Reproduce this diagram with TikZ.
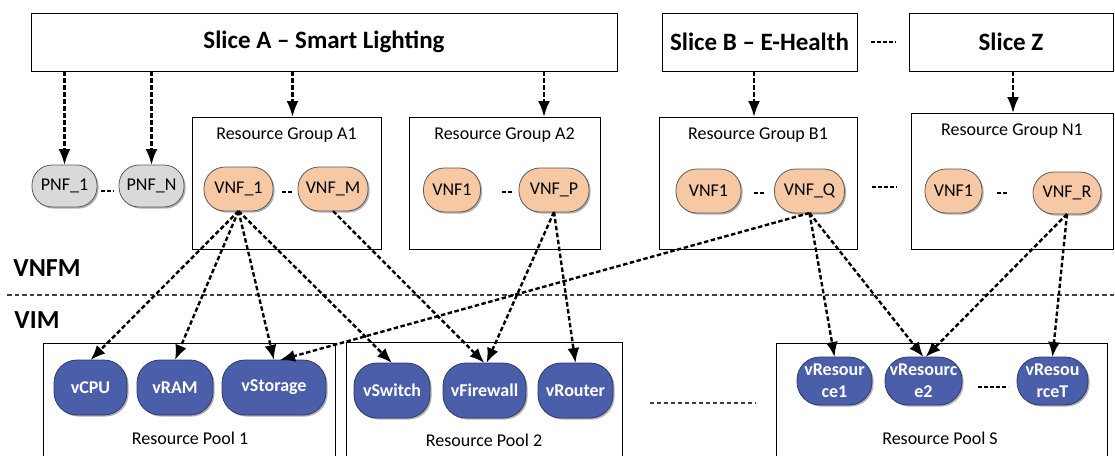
\documentclass[tikz,border=0pt]{standalone}
\usepackage{fontspec}
\setmainfont{Carlito}
\usetikzlibrary{arrows.meta,shadows}

\definecolor{pnfgray}{HTML}{D9D9D9}
\definecolor{vnfpeach}{HTML}{F6C8A4}
\definecolor{resblue}{HTML}{4A5EA9}
\definecolor{resedge}{HTML}{2E3A6A}
\definecolor{nodeedge}{HTML}{5A5A5A}
\definecolor{sepgray}{HTML}{404040}

\tikzset{
  slicebox/.style={draw, line width=1pt, outer sep=0pt, inner sep=0pt,
    font=\bfseries\fontsize{25}{30}\selectfont},
  groupbox/.style={draw, line width=0.9pt, outer sep=0pt, inner sep=0pt},
  grouplabel/.style={font=\fontsize{18}{22}\selectfont, inner sep=0pt},
  softshadow/.style={drop shadow={shadow xshift=1.6pt, shadow yshift=-1.6pt,
    opacity=0.3, fill=black}},
  pnfnode/.style={draw=nodeedge, fill=pnfgray, line width=0.8pt,
    rounded corners=20pt, outer sep=0pt, inner sep=0pt, minimum height=42,
    font=\fontsize{18}{21}\selectfont, softshadow},
  vnfnode/.style={draw=nodeedge, fill=vnfpeach, line width=0.8pt,
    rounded corners=21pt, outer sep=0pt, inner sep=0pt, minimum height=44,
    font=\fontsize{18}{21}\selectfont, softshadow},
  resnode/.style={draw=resedge, fill=resblue, line width=0.8pt, text=white,
    rounded corners=23pt, outer sep=0pt, inner sep=0pt, minimum height=55,
    align=center, font=\bfseries\fontsize{18}{22}\selectfont, softshadow},
  poolbox/.style={draw, line width=0.9pt, outer sep=0pt, inner sep=0pt},
  pooltext/.style={font=\fontsize{18}{22}\selectfont, inner sep=0pt},
  layerlabel/.style={font=\bfseries\fontsize{26}{30}\selectfont, inner sep=0pt},
  link/.style={line width=2.4pt, dash pattern=on 4.5pt off 2.5pt,
    -{Latex[length=16pt,width=12pt]}},
  flow/.style={line width=2.4pt, dash pattern=on 4.5pt off 2.5pt,
    -{Latex[length=15pt,width=12pt]}},
  gap/.style={line width=1.6pt, dash pattern=on 3.5pt off 2.5pt},
  trail/.style={line width=1.6pt, dash pattern=on 4pt off 3pt, draw=sepgray},
  separator/.style={line width=1.6pt, dash pattern=on 4.5pt off 3pt, draw=sepgray},
}

\begin{document}
\begin{tikzpicture}[x=1pt, y=-1pt]
\useasboundingbox (0,0) rectangle (1115,455);

% ---------- slices ----------
\node[slicebox, minimum width=586, minimum height=58] (sliceA) at (324,42) {Slice A -- Smart Lighting};
\node[slicebox, minimum width=195, minimum height=58] (sliceB) at (759.5,42) {Slice B -- E-Health};
\node[slicebox, minimum width=204, minimum height=58] (sliceZ) at (1011,42) {Slice Z};
\draw[gap] (871,42) coordinate (sbz1) -- (896,42) coordinate (sbz2);

% ---------- physical network functions ----------
\node[pnfnode, minimum width=65] (pnf1) at (64.5,186) {PNF\_1};
\node[pnfnode, minimum width=65] (pnfN) at (151.5,186) {PNF\_N};
\draw[gap] (101,191) coordinate (p1) -- (114,191) coordinate (p2);

% ---------- resource groups ----------
\node[groupbox, minimum width=189, minimum height=132] (rgA1) at (286.5,183) {};
\node[grouplabel] (rgA1l) at (286.5,135) {Resource Group A1};
\node[groupbox, minimum width=191, minimum height=132] (rgA2) at (504.5,183) {};
\node[grouplabel] (rgA2l) at (504.5,135) {Resource Group A2};
\node[groupbox, minimum width=198, minimum height=132] (rgB1) at (758,183) {};
\node[grouplabel] (rgB1l) at (758,135) {Resource Group B1};
\node[groupbox, minimum width=202, minimum height=136] (rgN1) at (1012,181) {};
\node[grouplabel] (rgN1l) at (1012,131) {Resource Group N1};

% ---------- virtual network functions ----------
\node[vnfnode, minimum width=69] (vnfA1) at (238.5,189) {VNF\_1};
\node[vnfnode, minimum width=70] (vnfAM) at (333,189) {VNF\_M};
\node[vnfnode, minimum width=57] (vnfB1) at (452,190) {VNF1};
\node[vnfnode, minimum width=70] (vnfBP) at (554,190) {VNF\_P};
\node[vnfnode, minimum width=65] (vnfC1) at (708.5,191) {VNF1};
\node[vnfnode, minimum width=70] (vnfCQ) at (809.5,191) {VNF\_Q};
\node[vnfnode, minimum width=57] (vnfD1) at (953.5,191) {VNF1};
\node[vnfnode, minimum width=68, minimum height=42] (vnfDR) at (1067,193) {VNF\_R};

\draw[gap] (282,192) coordinate (d1) -- (292,192) coordinate (d2);
\draw[gap] (502,192) coordinate (d3) -- (512,192) coordinate (d4);
\draw[gap] (754,193) coordinate (d5) -- (765,193) coordinate (d6);
\draw[gap] (872,187) coordinate (d7) -- (897,187) coordinate (d8);
\draw[gap] (997,193) coordinate (d9) -- (1007,193) coordinate (d10);

% ---------- slice to function arrows ----------
\draw[link] (pnf1.north |- sliceA.south) -- (pnf1.north);
\draw[link] (pnfN.north |- sliceA.south) -- (pnfN.north);
\draw[link] ([xshift=6pt]rgA1.north |- sliceA.south) -- ([xshift=6pt]rgA1.north);
\draw[link] ([xshift=39.5pt]rgA2.north |- sliceA.south) -- ([xshift=39.5pt]rgA2.north);
\draw[link] ([xshift=-4pt]rgB1.north |- sliceB.south) -- ([xshift=-4pt]rgB1.north);
\draw[link] ([xshift=1pt]rgN1.north |- sliceZ.south) -- ([xshift=1pt]rgN1.north);

% ---------- management layers ----------
\node[layerlabel] (vnfm) at (47,268) {VNFM};
\node[layerlabel] (vim) at (37,320) {VIM};
\draw[separator] (7,295) coordinate (s1) -- (1115,295) coordinate (s2);

% ---------- resource pools ----------
\node[poolbox, minimum width=292, minimum height=130] (pool1) at (189,408) {};
\node[pooltext] (pool1l) at (190,438) {Resource Pool 1};
\node[poolbox, minimum width=276, minimum height=130] (pool2) at (484,407) {};
\node[pooltext] (pool2l) at (484,440) {Resource Pool 2};
\node[poolbox, minimum width=331, minimum height=130] (poolS) at (941.5,408) {};
\node[pooltext] (poolSl) at (940,438) {Resource Pool S};
\draw[trail] (650,403) coordinate (e1) -- (756,403) coordinate (e2);

% ---------- virtual resources ----------
\node[resnode, minimum width=73] (vcpu) at (90.5,387.5) {vCPU};
\node[resnode, minimum width=76] (vram) at (175,387.5) {vRAM};
\node[resnode, minimum width=104] (vsto) at (274,387.5) {vStorage};
\node[resnode, minimum width=76] (vswi) at (392,390.5) {vSwitch};
\node[resnode, minimum width=83] (vfir) at (484.5,390.5) {vFirewall};
\node[resnode, minimum width=75] (vrou) at (575.5,390.5) {vRouter};
\node[resnode, minimum width=75, minimum height=48] (vres1) at (834.5,381) {vResour\\ce1};
\node[resnode, minimum width=77, minimum height=48] (vres2) at (923.5,381) {vResourc\\e2};
\node[resnode, minimum width=71, minimum height=48] (vresT) at (1052.5,381) {vResou\\rceT};
\draw[gap] (978,387) coordinate (r1) -- (1008,387) coordinate (r2);

% ---------- function to resource mappings ----------
\draw[flow] (vnfA1.south) -- (vcpu.north);
\draw[flow] (vnfA1.south) -- (vram.north);
\draw[flow] (vnfA1.south) -- (vsto.north);
\draw[flow] (vnfA1.south) -- (vswi.north);
\draw[flow] (vnfAM.south) -- (vfir.north);
\draw[flow] (vnfBP.south) -- ([xshift=2pt]vfir.north);
\draw[flow] (vnfBP.south) -- (vrou.north);
\draw[flow] (vnfCQ.south) -- ([xshift=6pt]vsto.north);
\draw[flow] (vnfCQ.south) -- (vres1.north);
\draw[flow] (vnfCQ.south) -- (vres2.north);
\draw[flow] (vnfDR.south) -- ([xshift=2pt]vres2.north);
\draw[flow] (vnfDR.south) -- (vresT.north);
\end{tikzpicture}
\end{document}
